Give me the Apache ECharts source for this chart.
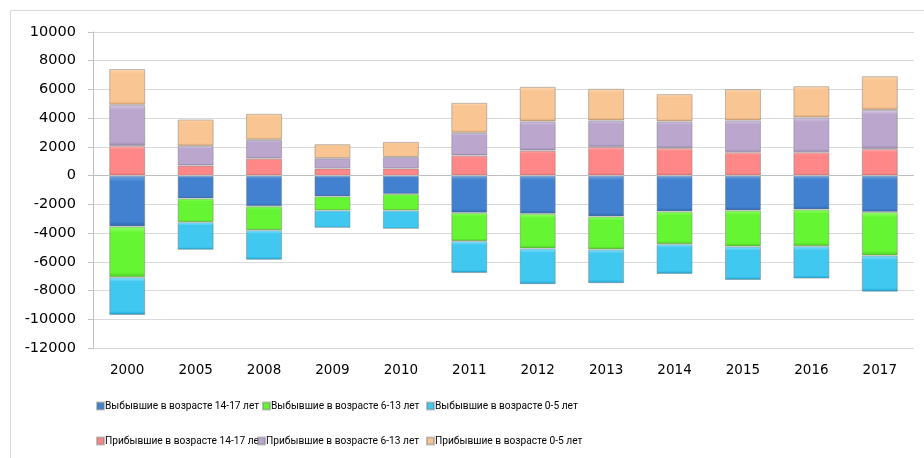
<!DOCTYPE html>
<html>
<head>
<meta charset="utf-8">
<script src="https://cdn.jsdelivr.net/npm/echarts@6/dist/echarts.min.js"></script>
<style>
	html, body { margin:0; padding:0; background:#fff; }
	#chartBar { width:924px; height:458px; }
</style>
</head>
<body>
<div id="chartBar"></div>
<script>
	// годы
	var years = ['2000','2005','2008','2009','2010','2011','2012','2013','2014','2015','2016','2017'];
	// выбывшие (отрицательные)
	var out1417 = [-3540,-1585,-2140,-1445,-1285,-2580,-2650,-2840,-2490,-2420,-2350,-2540];
	var out613  = [-3540,-1655,-1655,-980,-1140,-1980,-2420,-2300,-2280,-2510,-2560,-3025];
	var out05   = [-2620,-1925,-2065,-1210,-1280,-2210,-2490,-2350,-2070,-2330,-2260,-2515];
	// прибывшие
	var in1417 = [2070,700,1190,490,490,1400,1745,2000,1925,1625,1625,1855];
	var in613  = [2860,1370,1300,720,810,1580,2025,1840,1845,2210,2420,2720];
	var in05   = [2490,1840,1815,980,1050,2090,2415,2205,1905,2185,2185,2350];

	var names = [
		'Выбывшие в возрасте 14-17 лет',
		'Выбывшие в возрасте 6-13 лет',
		'Выбывшие в возрасте 0-5 лет',
		'Прибывшие в возрасте 14-17 лет',
		'Прибывшие в возрасте 6-13 лет',
		'Прибывшие в возрасте 0-5 лет'
	];
	var values = [out1417, out613, out05, in1417, in613, in05];
	// [светлый верх, основной, тёмный низ]
	var colors = [
		['#6fa3e0','#4181d0','#2f67ad'],
		['#95ff70','#66f533','#4ccb22'],
		['#8fe6ff','#41c8f0','#1a9ccb'],
		['#ffb3b3','#ff8787','#e07070'],
		['#d8cbe6','#bba7cd','#9987ad'],
		['#fddab6','#f9c592','#d9a471']
	];

	function bevel(c){
		return new echarts.graphic.LinearGradient(0,0,0,1,[
			{offset:0, color:c[0]},
			{offset:0.12, color:c[1]},
			{offset:0.9, color:c[1]},
			{offset:1, color:c[2]}
		]);
	}

	var series = [];
	for(var i=0;i<names.length;i++){
		var s = {
			name:names[i],
			type:'bar',
			stack:'all',
			barWidth:36,
			data:values[i],
			itemStyle:{
				color:bevel(colors[i]),
				borderColor:'rgba(120,120,120,0.45)',
				borderWidth:1
			}
		};
		if(i===0){
			s.markLine = {
				silent:true,
				symbol:'none',
				label:{show:false},
				lineStyle:{color:'#bfbfbf', type:'solid', width:1},
				data:[{yAxis:0}]
			};
		}
		series.push(s);
	}

	// легенда: 2 строки по 3 элемента
	var legendPos = [[91,406],[257,406],[421,406],[91,441],[252,441],[421,441]];
	var legends = [];
	for(var j=0;j<names.length;j++){
		legends.push({
			data:[names[j]],
			left:legendPos[j][0],
			top:legendPos[j][1]-10,
			icon:'rect',
			itemWidth:7,
			itemHeight:7,
			itemGap:4,
			selectedMode:false,
			textStyle:{fontFamily:'Roboto', fontSize:10.2, color:'#000', padding:[0,0,0,-4]}
		});
	}

	var chartBar = echarts.init(document.getElementById('chartBar'));
	chartBar.setOption({
		animation:false,
		graphic:[{
			type:'rect',
			shape:{x:10.5, y:10.5, width:930, height:470},
			style:{fill:'none', stroke:'#d9d9d9', lineWidth:1},
			silent:true
		}],
		legend:legends,
		grid:{left:93, right:10, top:32, bottom:110},
		xAxis:{
			type:'category',
			data:years,
			axisLine:{show:false, onZero:false},
			axisTick:{show:false},
			axisLabel:{fontFamily:'DejaVu Sans', fontSize:13.5, color:'#000', margin:15}
		},
		yAxis:{
			type:'value',
			min:-12000,
			max:10000,
			interval:2000,
			axisLine:{show:true, lineStyle:{color:'#bfbfbf'}},
			axisTick:{show:true, length:5, lineStyle:{color:'#bfbfbf'}},
			axisLabel:{fontFamily:'DejaVu Sans', fontSize:14.5, color:'#000', margin:17, formatter:function(v){return String(v);}},
			splitLine:{lineStyle:{color:'#d9d9d9'}}
		},
		series:series
	});
</script>
</body>
</html>
